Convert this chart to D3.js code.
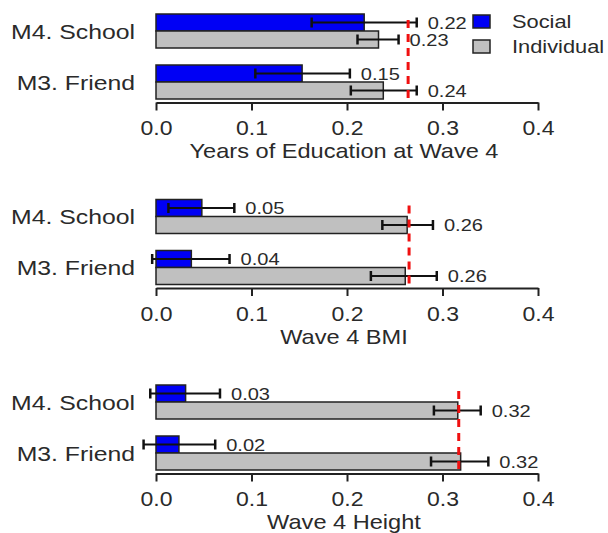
<!DOCTYPE html>
<html>
<head>
<meta charset="utf-8">
<script src="https://cdn.jsdelivr.net/npm/d3@7"></script>
<style>
	body { margin: 0; background: #fff; }
	text { font-family: 'Liberation Sans', Arial, sans-serif; fill: #2a2a2a; }
</style>
</head>
<body>
<svg id="svg" width="608" height="533"></svg>
<script>
// data
const categories = ['M4. School', 'M3. Friend'];
const series = ['Social', 'Individual'];
const panelTitles = ['Years of Education at Wave 4', 'Wave 4 BMI', 'Wave 4 Height'];
const xTicks = [0, 0.1, 0.2, 0.3, 0.4];

// per panel, [M4. School, M3. Friend]
const socialVals = [[0.218, 0.153], [0.048, 0.037], [0.031, 0.024]];
const socialLo = [[0.163, 0.104], [0.013, -0.004], [-0.006, -0.013]];
const socialHi = [[0.273, 0.203], [0.082, 0.077], [0.067, 0.062]];

const indivVals = [[0.233, 0.238], [0.263, 0.261], [0.316, 0.319]];
const indivLo = [[0.211, 0.204], [0.237, 0.225], [0.291, 0.288]];
const indivHi = [[0.254, 0.273], [0.290, 0.294], [0.340, 0.348]];

// red dashed reference line per panel
const refLines = [0.264, 0.265, 0.317];

// layout
const panelTops = [14, 199.5, 385];
const axisOffset = 88.5;
const colors = { Social: '#0000f5', Individual: '#c0c0c0' };
const stroke = '#222';
const sx = 1.18; // the original picture is a bit wide, stretch text to match

const svg = d3.select('#svg');

const xscale = d3.scaleLinear().domain([0, 0.4]).range([156, 538]);
const yscale = d3.scaleBand().domain(categories).range([0, 85]).paddingInner(1 / 3);
const ysub = d3.scaleBand().domain(series).range([0, yscale.bandwidth()]);
const fmt = d3.format('.2f');

const place = (x, y) => `translate(${x},${y}) scale(${sx},1)`;

panelTitles.forEach((title, p) => {
	const g = svg.append('g').attr('transform', `translate(0, ${panelTops[p]})`);

	const rows = [];
	categories.forEach((c, i) => {
		rows.push({ cat: c, s: 'Social', v: socialVals[p][i], lo: socialLo[p][i], hi: socialHi[p][i] });
		rows.push({ cat: c, s: 'Individual', v: indivVals[p][i], lo: indivLo[p][i], hi: indivHi[p][i] });
	});
	const cy = (d) => yscale(d.cat) + ysub(d.s) + ysub.bandwidth() / 2;

	// axis
	const axis = d3.axisBottom(xscale)
		.tickValues(xTicks)
		.tickFormat(d3.format('.1f'))
		.tickSize(8)
		.tickSizeOuter(0)
		.tickPadding(11);
	const ax = g.append('g')
		.attr('transform', `translate(0, ${axisOffset})`)
		.call(axis);
	ax.select('.domain').attr('stroke', stroke).attr('stroke-width', 2);
	ax.selectAll('.tick line').attr('stroke', stroke).attr('stroke-width', 2);
	ax.selectAll('.tick text')
		.style('font-family', "'Liberation Sans', Arial, sans-serif")
		.style('font-size', '19.5px')
		.attr('fill', '#2a2a2a')
		.attr('transform', `scale(${sx},1)`);

	// bars
	g.selectAll('rect.bar')
		.data(rows)
		.enter()
		.append('rect')
		.attr('class', 'bar')
		.attr('x', xscale(0))
		.attr('y', (d) => yscale(d.cat) + ysub(d.s))
		.attr('width', (d) => xscale(d.v) - xscale(0))
		.attr('height', ysub.bandwidth())
		.attr('fill', (d) => colors[d.s])
		.attr('stroke', stroke)
		.attr('stroke-width', 1.5);

	// error bars
	g.selectAll('line.err')
		.data(rows)
		.enter()
		.append('line')
		.attr('class', 'err')
		.attr('x1', (d) => xscale(d.lo))
		.attr('x2', (d) => xscale(d.hi))
		.attr('y1', cy)
		.attr('y2', cy)
		.attr('stroke', '#111')
		.attr('stroke-width', 2);

	['lo', 'hi'].forEach((k) => {
		g.selectAll('line.cap-' + k)
			.data(rows)
			.enter()
			.append('line')
			.attr('class', 'cap-' + k)
			.attr('x1', (d) => xscale(d[k]))
			.attr('x2', (d) => xscale(d[k]))
			.attr('y1', (d) => cy(d) - 5)
			.attr('y2', (d) => cy(d) + 5)
			.attr('stroke', '#111')
			.attr('stroke-width', 2.5);
	});

	// value labels
	g.selectAll('text.val')
		.data(rows)
		.enter()
		.append('text')
		.attr('class', 'val')
		.attr('transform', (d) => place(xscale(d.hi) + 11, cy(d)))
		.attr('dy', '0.36em')
		.style('font-size', '17px')
		.text((d) => fmt(d.v));

	// reference line
	g.append('line')
		.attr('x1', xscale(refLines[p]))
		.attr('x2', xscale(refLines[p]))
		.attr('y1', 6)
		.attr('y2', axisOffset)
		.attr('stroke', '#f01010')
		.attr('stroke-width', 3)
		.attr('stroke-dasharray', '8,6');

	// category labels
	g.selectAll('text.cat')
		.data(categories)
		.enter()
		.append('text')
		.attr('class', 'cat')
		.attr('transform', (d) => place(135, yscale(d) + yscale.bandwidth() / 2))
		.attr('dy', '0.36em')
		.attr('text-anchor', 'end')
		.style('font-size', '21px')
		.text((d) => d);

	// title
	g.append('text')
		.attr('transform', place((xscale.range()[0] + xscale.range()[1]) / 2 - 3, 144))
		.attr('text-anchor', 'middle')
		.style('font-size', '20px')
		.text(title);
});

// legend
const legend = svg.append('g');
legend.selectAll('rect')
	.data(series)
	.enter()
	.append('rect')
	.attr('x', 473)
	.attr('y', (d, i) => 15 + i * 25)
	.attr('width', 17)
	.attr('height', 13)
	.attr('fill', (d) => colors[d])
	.attr('stroke', stroke)
	.attr('stroke-width', 1.5);
legend.selectAll('text')
	.data(series)
	.enter()
	.append('text')
	.attr('transform', (d, i) => place(512, 21.5 + i * 25))
	.attr('dy', '0.36em')
	.style('font-size', '18.5px')
	.text((d) => d);
</script>
</body>
</html>
